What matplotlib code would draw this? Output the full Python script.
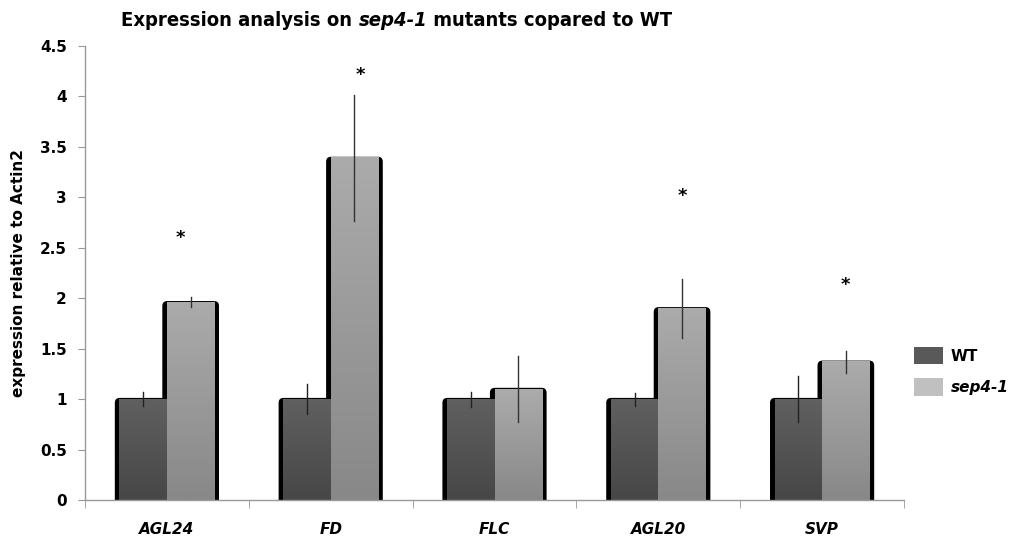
import matplotlib
matplotlib.use("Agg")
import matplotlib.pyplot as plt
import numpy as np
from matplotlib.patches import FancyBboxPatch, Patch
from matplotlib import font_manager

genes = ["AGL24", "FD", "FLC", "AGL20", "SVP"]
wt_vals = [1.0, 1.0, 1.0, 1.0, 1.0]
wt_err = [0.07, 0.145, 0.075, 0.065, 0.23]
sep_vals = [1.96, 3.39, 1.10, 1.90, 1.37]
sep_err = [0.05, 0.62, 0.325, 0.29, 0.11]
star_y = [2.60, 4.21, None, 3.01, 2.13]
star_dx = [-0.06, 0.035, 0.0, 0.0, 0.0]

names = {f.name for f in font_manager.fontManager.ttflist}
title_family = "Liberation Sans Narrow" if "Liberation Sans Narrow" in names else "DejaVu Sans"

fig = plt.figure(figsize=(10.22, 5.39), dpi=100)
ax = fig.add_axes([85/1022, 39/539, 819/1022, 454/539])

bw = 0.29
sh = 0.028
x = np.arange(len(genes))

def grad(top_c, bot_c):
    t = np.linspace(0, 1, 64)[:, None]
    top = np.array(matplotlib.colors.to_rgb(top_c))
    bot = np.array(matplotlib.colors.to_rgb(bot_c))
    img = bot * (1 - t[..., None]) + top * t[..., None]
    return np.repeat(img, 2, axis=1)

wt_img = grad("#606060", "#474747")
sep_img = grad("#ababab", "#888888")

aspect = (4.5/454) / (5.0/819)
for i in range(len(genes)):
    for x0, h in [(x[i]-bw, wt_vals[i]), (x[i], sep_vals[i])]:
        p = FancyBboxPatch((x0 - sh, -0.1), bw + 2*sh, h + 0.1 + 0.012,
                           boxstyle="round,pad=0,rounding_size=0.03",
                           mutation_aspect=aspect, fc="black", ec="none", zorder=1)
        ax.add_patch(p)
for i in range(len(genes)):
    ax.imshow(wt_img, extent=(x[i]-bw, x[i], 0, wt_vals[i]), origin="lower",
              aspect="auto", zorder=2, interpolation="bilinear")
    ax.imshow(sep_img, extent=(x[i], x[i]+bw, 0, sep_vals[i]), origin="lower",
              aspect="auto", zorder=2, interpolation="bilinear")
    ax.plot([x[i]-bw/2]*2, [wt_vals[i]-wt_err[i], wt_vals[i]+wt_err[i]],
            color="#222222", lw=1.0, zorder=3)
    ax.plot([x[i]+bw/2]*2, [sep_vals[i]-sep_err[i], sep_vals[i]+sep_err[i]],
            color="#333333", lw=1.0, zorder=3)
    if star_y[i] is not None:
        ax.text(x[i]+bw/2+star_dx[i], star_y[i], "*", ha="center", va="center",
                fontsize=13, fontweight="bold", color="black", zorder=4)

ax.set_xlim(-0.5, 4.5)
ax.set_ylim(0, 4.5)
ax.set_yticks(np.arange(0, 4.51, 0.5))
ax.set_yticklabels(["0", "0.5", "1", "1.5", "2", "2.5", "3", "3.5", "4", "4.5"],
                   fontsize=11, fontweight="bold")
ax.set_xticks(x)
ax.set_xticklabels(genes, fontsize=11, fontweight="bold", fontstyle="italic")
ax.set_xticks(np.arange(-0.5, 4.51, 1), minor=True)
ax.tick_params(axis="x", which="major", length=0, pad=16)
ax.tick_params(axis="x", which="minor", length=6, color="#999999", direction="out")
ax.tick_params(axis="y", length=5, color="#999999", direction="out", pad=8)
for s in ["top", "right"]:
    ax.spines[s].set_visible(False)
for s in ["left", "bottom"]:
    ax.spines[s].set_color("#999999")
    ax.spines[s].set_linewidth(1.0)
ax.set_ylabel("expression relative to Actin2", fontsize=11, fontweight="bold", labelpad=10)

ty = 1 - 20/539
kw = dict(va="center", fontsize=14.5, fontweight="bold", family=title_family,
          fontstretch="condensed")
p1 = fig.text(0, ty, "Expression analysis on ", ha="left", **kw)
p2 = fig.text(0, ty, "sep4-1", ha="left", fontstyle="italic", **kw)
p3 = fig.text(0, ty, " mutants copared to WT", ha="left", **kw)
fig.canvas.draw()
r = fig.canvas.get_renderer()
w1 = p1.get_window_extent(r).width
w2 = p2.get_window_extent(r).width
w3 = p3.get_window_extent(r).width
total = w1 + w2 + w3
start = 397 - total/2
p1.set_x(start/1022)
p2.set_x((start + w1)/1022)
p3.set_x((start + w1 + w2)/1022)

handles = [Patch(fc="#595959", ec="none"), Patch(fc="#c0c0c0", ec="none")]
leg = fig.legend(handles, ["WT", "sep4-1"], loc="upper left",
                 bbox_to_anchor=(900/1022, 1 - 333/539), frameon=False,
                 handlelength=1.9, handleheight=1.4, labelspacing=0.9, handletextpad=0.5,
                 prop={"size": 11, "weight": "bold"})
leg.get_texts()[1].set_fontstyle("italic")

fig.savefig("out.png", dpi=100)
